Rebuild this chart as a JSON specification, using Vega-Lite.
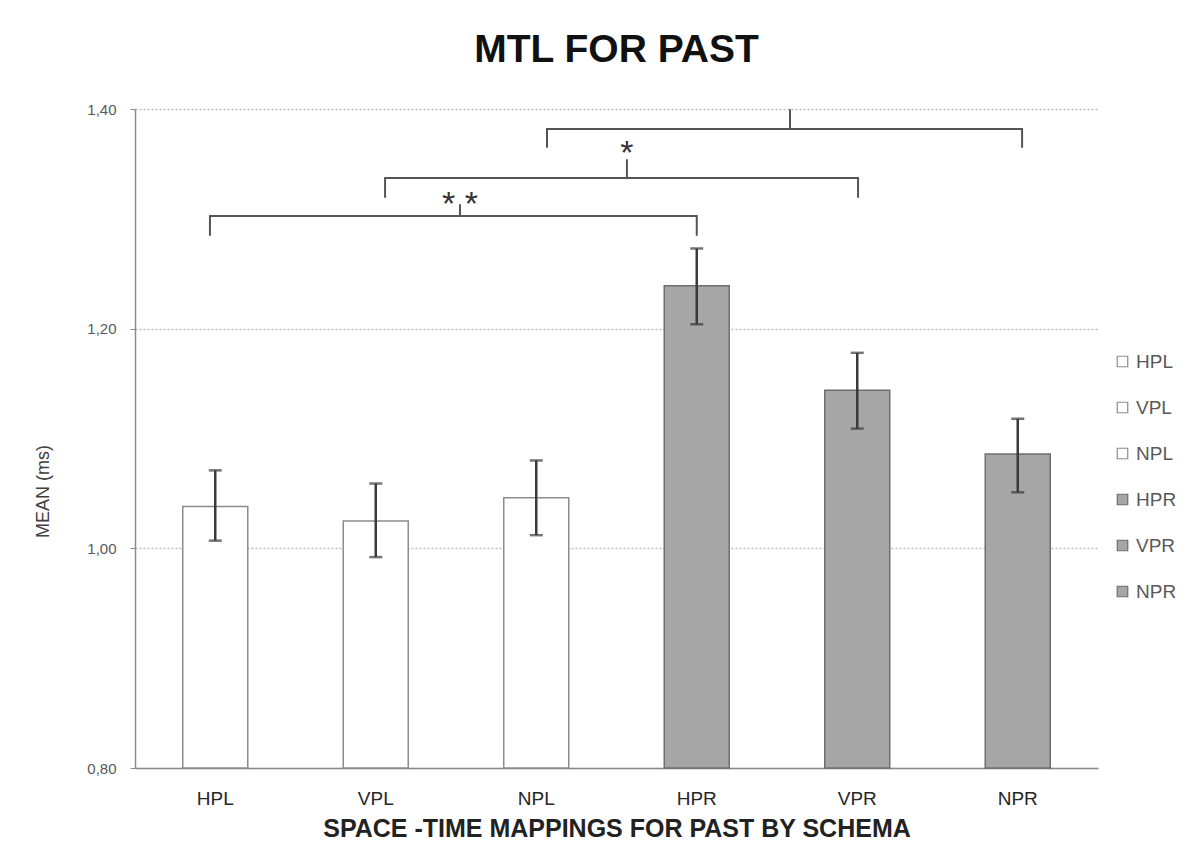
{
  "$schema": "https://vega.github.io/schema/vega-lite/v6.json",
  "width": 963,
  "height": 659,
  "autosize": {"type": "none"},
  "padding": {"left": 135, "top": 109, "right": 102, "bottom": 99},
  "background": "white",
  "title": {"text": "MTL FOR PAST", "fontSize": 39, "font": "Liberation Sans", "fontWeight": "bold", "color": "#111111", "offset": 32, "anchor": "middle"},
  "config": {"view": {"stroke": null}, "font": "Liberation Sans"},
  "datasets": {
    "bars": [
      {"schema": "HPL", "mean": 1.038, "lo": 1.007, "hi": 1.071},
      {"schema": "VPL", "mean": 1.025, "lo": 0.992, "hi": 1.059},
      {"schema": "NPL", "mean": 1.046, "lo": 1.012, "hi": 1.080},
      {"schema": "HPR", "mean": 1.239, "lo": 1.204, "hi": 1.273},
      {"schema": "VPR", "mean": 1.144, "lo": 1.109, "hi": 1.178},
      {"schema": "NPR", "mean": 1.086, "lo": 1.051, "hi": 1.118}
    ],
    "braces": [
      {"x": 0.467, "x2": 3.50, "y": 1.3026, "y2": 1.3026},
      {"x": 0.467, "x2": 0.467, "y": 1.3026, "y2": 1.2853},
      {"x": 3.50, "x2": 3.50, "y": 1.3026, "y2": 1.2853},
      {"x": 2.025, "x2": 2.025, "y": 1.3026, "y2": 1.3126},
      {"x": 1.558, "x2": 4.505, "y": 1.3372, "y2": 1.3372},
      {"x": 1.558, "x2": 1.558, "y": 1.3372, "y2": 1.3199},
      {"x": 4.505, "x2": 4.505, "y": 1.3372, "y2": 1.3199},
      {"x": 3.065, "x2": 3.065, "y": 1.3372, "y2": 1.3536},
      {"x": 2.567, "x2": 5.527, "y": 1.3818, "y2": 1.3818},
      {"x": 2.567, "x2": 2.567, "y": 1.3818, "y2": 1.3654},
      {"x": 5.527, "x2": 5.527, "y": 1.3818, "y2": 1.3654},
      {"x": 4.081, "x2": 4.081, "y": 1.3818, "y2": 1.3991}
    ],
    "stars": [
      {"x": 2.025, "y": 1.3035, "label": "* *"},
      {"x": 3.065, "y": 1.3495, "label": "*"}
    ]
  },
  "layer": [
    {
      "data": {"name": "bars"},
      "encoding": {
        "x": {
          "field": "schema", "type": "nominal", "sort": null,
          "scale": {"paddingInner": 0.595, "paddingOuter": 0.2975},
          "title": "SPACE -TIME MAPPINGS FOR PAST BY SCHEMA",
          "axis": {
            "labelAngle": 0, "ticks": false, "domainColor": "#8a8a8a", "domainWidth": 1.5,
            "labelFontSize": 19, "labelColor": "#262626", "labelPadding": 21,
            "titleFontSize": 25, "titleFontWeight": "bold", "titleColor": "#222222", "titlePadding": 8
          }
        }
      },
      "layer": [
        {
          "mark": {"type": "bar", "strokeWidth": 1.5},
          "encoding": {
            "y": {
              "field": "mean", "type": "quantitative",
              "scale": {"domain": [0.8, 1.4], "zero": false, "nice": false},
              "title": "MEAN (ms)",
              "axis": {
                "values": [0.8, 1.0, 1.2, 1.4], "format": ".2f",
                "labelExpr": "replace(datum.label, '.', ',')",
                "domainColor": "#8a8a8a", "domainWidth": 1.5, "tickColor": "#8a8a8a", "tickSize": 5,
                "labelColor": "#595959", "labelFontSize": 15, "labelPadding": 14,
                "grid": true, "gridColor": "#bdbdbd", "gridDash": [2, 2], "gridWidth": 1.3,
                "titleFontSize": 18, "titleFontWeight": "normal", "titleColor": "#404040", "titlePadding": 34,
                "titleY": 382
              }
            },
            "y2": {"datum": 0.8},
            "fill": {
              "field": "schema", "type": "nominal",
              "scale": {"domain": ["HPL", "VPL", "NPL", "HPR", "VPR", "NPR"], "range": ["#ffffff", "#ffffff", "#ffffff", "#a6a6a6", "#a6a6a6", "#a6a6a6"]},
              "legend": {
                "title": null, "orient": "none", "legendX": 978, "legendY": 243, "padding": 0,
                "symbolType": "square", "symbolSize": 110, "symbolStrokeWidth": 1.2,
                "labelFontSize": 19, "labelColor": "#595959", "labelOffset": 4, "rowPadding": 26
              }
            },
            "stroke": {
              "field": "schema", "type": "nominal",
              "scale": {"domain": ["HPL", "VPL", "NPL", "HPR", "VPR", "NPR"], "range": ["#8c8c8c", "#8c8c8c", "#8c8c8c", "#6e6e6e", "#6e6e6e", "#6e6e6e"]},
              "legend": {
                "title": null, "orient": "none", "legendX": 978, "legendY": 243, "padding": 0,
                "symbolType": "square", "symbolSize": 110, "symbolStrokeWidth": 1.2,
                "labelFontSize": 19, "labelColor": "#595959", "labelOffset": 4, "rowPadding": 26
              }
            }
          }
        },
        {
          "mark": {"type": "rule", "color": "#3a3a3a", "strokeWidth": 2.5},
          "encoding": {
            "y": {"field": "lo", "type": "quantitative", "scale": {"domain": [0.8, 1.4], "zero": false, "nice": false}, "title": "MEAN (ms)"},
            "y2": {"field": "hi"}
          }
        },
        {
          "mark": {"type": "tick", "color": "#3a3a3a", "size": 13, "thickness": 2.5},
          "encoding": {
            "y": {"field": "hi", "type": "quantitative", "scale": {"domain": [0.8, 1.4], "zero": false, "nice": false}, "title": "MEAN (ms)"}
          }
        },
        {
          "mark": {"type": "tick", "color": "#3a3a3a", "size": 13, "thickness": 2.5},
          "encoding": {
            "y": {"field": "lo", "type": "quantitative", "scale": {"domain": [0.8, 1.4], "zero": false, "nice": false}, "title": "MEAN (ms)"}
          }
        }
      ]
    },
    {
      "data": {"name": "braces"},
      "mark": {"type": "rule", "color": "#555555", "strokeWidth": 2, "strokeCap": "round"},
      "encoding": {
        "x": {"field": "x", "type": "quantitative", "scale": {"domain": [0, 6], "zero": false, "nice": false}, "axis": null},
        "x2": {"field": "x2"},
        "y": {"field": "y", "type": "quantitative", "scale": {"domain": [0.8, 1.4], "zero": false, "nice": false}, "title": "MEAN (ms)"},
        "y2": {"field": "y2"}
      }
    },
    {
      "data": {"name": "stars"},
      "mark": {"type": "text", "fontSize": 34, "font": "Liberation Sans", "color": "#333333", "align": "center", "baseline": "alphabetic"},
      "encoding": {
        "x": {"field": "x", "type": "quantitative", "scale": {"domain": [0, 6], "zero": false, "nice": false}, "axis": null},
        "y": {"field": "y", "type": "quantitative", "scale": {"domain": [0.8, 1.4], "zero": false, "nice": false}, "title": "MEAN (ms)"},
        "text": {"field": "label"}
      }
    }
  ],
  "resolve": {"scale": {"x": "independent"}}
}
